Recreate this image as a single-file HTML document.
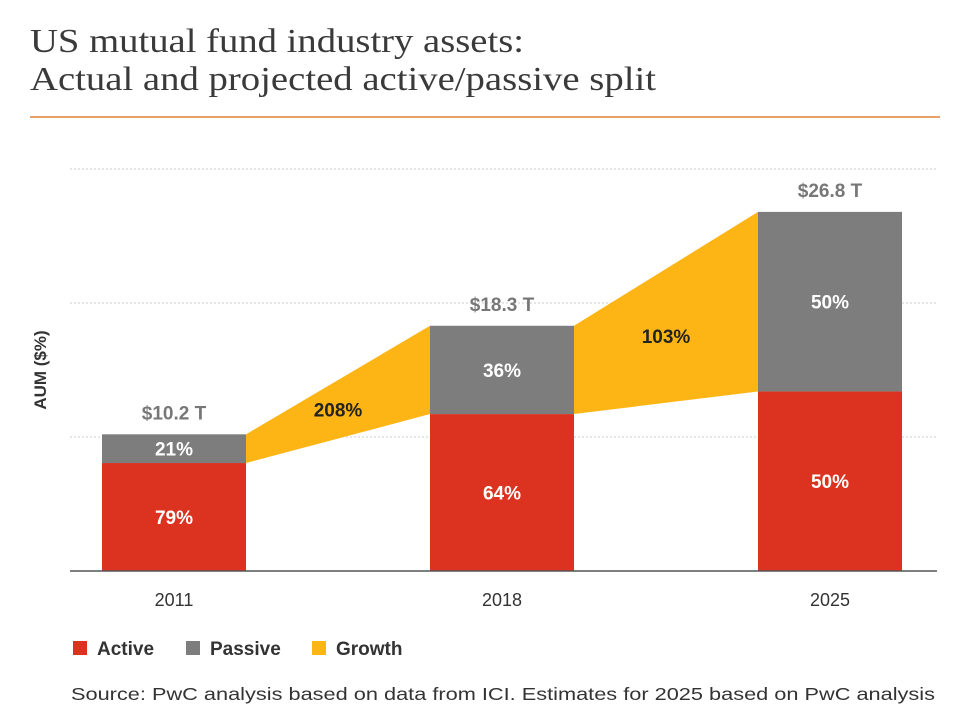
<!DOCTYPE html>
<html><head><meta charset="utf-8"><style>
body{margin:0;background:#fff;width:965px;height:720px;overflow:hidden}
svg{display:block}
</style></head><body>
<svg width="965" height="720" xmlns="http://www.w3.org/2000/svg">
<text x="30" y="52" font-family="Liberation Serif, serif" font-size="34" fill="#3a3a3a" textLength="494" lengthAdjust="spacingAndGlyphs">US mutual fund industry assets:</text>
<text x="30" y="90" font-family="Liberation Serif, serif" font-size="34" fill="#3a3a3a" textLength="626" lengthAdjust="spacingAndGlyphs">Actual and projected active/passive split</text>
<line x1="30" y1="117" x2="940" y2="117" stroke="#e8a06a" stroke-width="2"/>
<text transform="translate(46,370) rotate(-90)" text-anchor="middle" font-family="Liberation Sans, sans-serif" font-size="17" font-weight="bold" fill="#333">AUM ($%)</text>
<g id="grid"></g>
<g id="marks"></g>
<line x1="70" y1="571" x2="937" y2="571" stroke="#555" stroke-width="1.5"/>
<g id="labels"></g>
<g font-family="Liberation Sans, sans-serif" font-size="19" font-weight="bold" fill="#333">
<rect x="73" y="641" width="14" height="14" fill="#dc3320"/>
<text x="97" y="655">Active</text>
<rect x="186" y="641" width="14" height="14" fill="#7d7d7d"/>
<text x="210" y="655">Passive</text>
<rect x="312" y="641" width="14" height="14" fill="#fdb515"/>
<text x="336" y="655">Growth</text>
</g>
<text x="71" y="700" font-family="Liberation Sans, sans-serif" font-size="17.5" fill="#333" textLength="864" lengthAdjust="spacingAndGlyphs">Source: PwC analysis based on data from ICI. Estimates for 2025 based on PwC analysis</text>
</svg>
<script>
const years=["2011","2018","2025"];
const totals=[10.2,18.3,26.8];
const activePct=[79,64,50];
const passivePct=[21,36,50];
const growthLabels=["208%","103%"];
const gridTicks=[10,20,30];
const NS="http://www.w3.org/2000/svg";
const y0=571,k=13.4;
function yS(v){return y0-v*k;}
function xS(i){return 102+i*328;}
const bw=144;
function mk(t,a,p){const e=document.createElementNS(NS,t);for(const n in a)e.setAttribute(n,a[n]);if(p)p.appendChild(e);return e;}
const grid=document.getElementById('grid'),marks=document.getElementById('marks'),labels=document.getElementById('labels');
gridTicks.forEach(v=>{const l=mk('line',{x1:70,x2:937,y1:yS(v),y2:yS(v),stroke:'#ccc','stroke-dasharray':'2,2'},grid);

});
const activeV=totals.map((t,i)=>t*activePct[i]/100);
for(let i=0;i<years.length-1;i++){
 const x1=xS(i)+bw,x2=xS(i+1);
 const pg=mk('polygon',{points:`${x1},${yS(totals[i])} ${x2},${yS(totals[i+1])} ${x2},${yS(activeV[i+1])} ${x1},${yS(activeV[i])}`,fill:'#fdb515'},marks);
 
 
 const gt=mk('text',{x:(x1+x2)/2,y:(yS(totals[i])+yS(totals[i+1])+yS(activeV[i])+yS(activeV[i+1]))/4+7,'text-anchor':'middle','font-family':'Liberation Sans, sans-serif','font-size':19,'font-weight':'bold',fill:'#222'},labels);
 gt.textContent=growthLabels[i];
 
 
}
years.forEach((yr,i)=>{
 const x=xS(i),a=activeV[i],t=totals[i];
 const ra=mk('rect',{x:x,y:yS(a),width:bw,height:y0-yS(a),fill:'#dc3320'},marks);
 
 
 const rp=mk('rect',{x:x,y:yS(t),width:bw,height:yS(a)-yS(t),fill:'#7d7d7d'},marks);
 
 
 const f={'text-anchor':'middle','font-family':'Liberation Sans, sans-serif','font-size':19,'font-weight':'bold'};
 const ta=mk('text',Object.assign({x:x+bw/2,y:(yS(a)+y0)/2+7,fill:'#fff'},f),labels);ta.textContent=activePct[i]+'%';
 
 
 const tp=mk('text',Object.assign({x:x+bw/2,y:(yS(a)+yS(t))/2+7,fill:'#fff'},f),labels);tp.textContent=passivePct[i]+'%';
 
 
 const tt=mk('text',Object.assign({x:x+bw/2,y:yS(t)-15,fill:'#777'},f),labels);tt.textContent='$'+t.toFixed(1)+' T';
 
 
 const tx=mk('text',{x:x+bw/2,y:606,'text-anchor':'middle','font-family':'Liberation Sans, sans-serif','font-size':18,fill:'#333'},labels);tx.textContent=yr;
 
 
});
</script>
</body></html>
